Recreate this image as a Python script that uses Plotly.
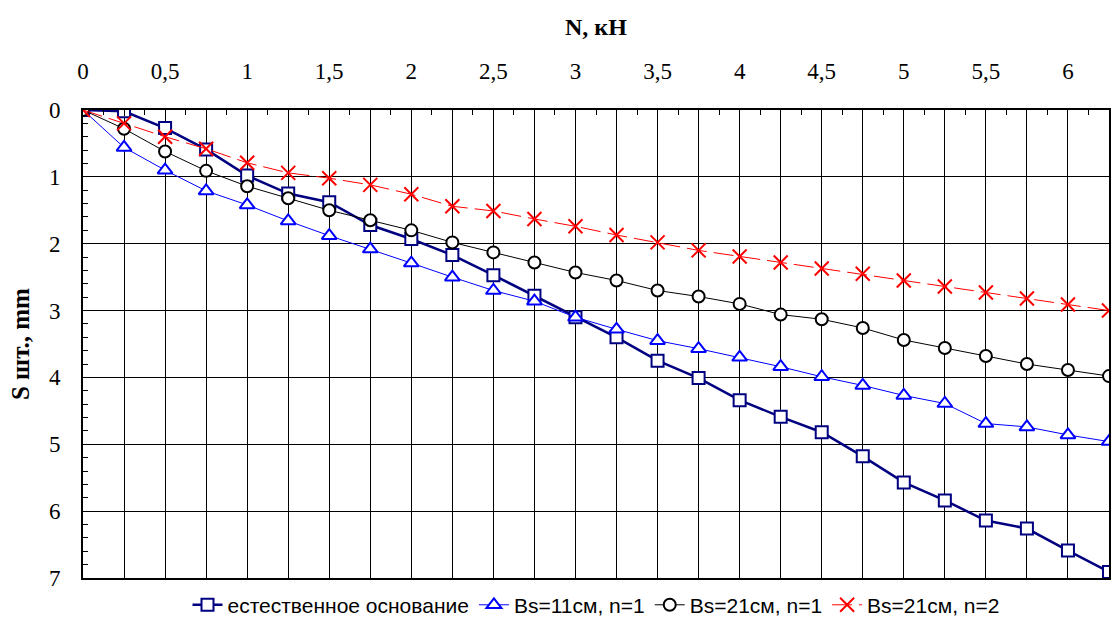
import plotly.graph_objects as go

# Load N, kN
N = [0, 0.25, 0.5, 0.75, 1, 1.25, 1.5, 1.75, 2, 2.25, 2.5, 2.75, 3, 3.25,
     3.5, 3.75, 4, 4.25, 4.5, 4.75, 5, 5.25, 5.5, 5.75, 6, 6.25]

# Settlement S, mm
s_natural = [0, 0.02, 0.27, 0.59, 0.98, 1.25, 1.38, 1.72, 1.93, 2.17, 2.47, 2.78, 3.10,
             3.40, 3.75, 4.01, 4.34, 4.59, 4.82, 5.18, 5.57, 5.84, 6.14, 6.26, 6.59, 6.91]
s_bs11_n1 = [0, 0.56, 0.90, 1.21, 1.42, 1.66, 1.88, 2.08, 2.29, 2.50, 2.70, 2.86, 3.10,
             3.28, 3.45, 3.57, 3.70, 3.84, 3.99, 4.12, 4.27, 4.39, 4.69, 4.74, 4.86, 4.96]
s_bs21_n1 = [0, 0.28, 0.62, 0.91, 1.14, 1.32, 1.50, 1.65, 1.80, 1.98, 2.13, 2.28, 2.43,
             2.55, 2.70, 2.79, 2.90, 3.06, 3.13, 3.26, 3.44, 3.56, 3.68, 3.80, 3.89, 3.98]
s_bs21_n2 = [0, 0.20, 0.40, 0.58, 0.79, 0.94, 1.02, 1.12, 1.26, 1.44, 1.51, 1.63, 1.74,
             1.87, 1.98, 2.10, 2.19, 2.28, 2.37, 2.45, 2.55, 2.64, 2.73, 2.82, 2.91, 3.00]

names = ["естественное основание", "Bs=11см, n=1", "Bs=21см, n=1", "Bs=21см, n=2"]

x_tickvals = [0, 0.25, 0.5, 0.75, 1, 1.25, 1.5, 1.75, 2, 2.25, 2.5, 2.75, 3, 3.25,
              3.5, 3.75, 4, 4.25, 4.5, 4.75, 5, 5.25, 5.5, 5.75, 6, 6.25]
x_ticktext = ["0", "", "0,5", "", "1", "", "1,5", "", "2", "", "2,5", "", "3", "",
              "3,5", "", "4", "", "4,5", "", "5", "", "5,5", "", "6", ""]
y_tickvals = [0, 1, 2, 3, 4, 5, 6, 7]
y_ticktext = ["0", "1", "2", "3", "4", "5", "6", "7"]

fig = go.Figure()
fig.add_trace(go.Scatter(
    x=N, y=s_natural, name=names[0], mode="lines+markers",
    line=dict(color="#000080", width=2.5),
    marker=dict(symbol="square", size=12, color="white",
                line=dict(color="#000080", width=2))))
fig.add_trace(go.Scatter(
    x=N, y=s_bs11_n1, name=names[1], mode="lines+markers",
    line=dict(color="#0000FF", width=1),
    marker=dict(symbol="triangle-up", size=13, color="white",
                line=dict(color="#0000FF", width=2))))
fig.add_trace(go.Scatter(
    x=N, y=s_bs21_n1, name=names[2], mode="lines+markers",
    line=dict(color="black", width=1),
    marker=dict(symbol="circle", size=12, color="white",
                line=dict(color="black", width=2))))
fig.add_trace(go.Scatter(
    x=N, y=s_bs21_n2, name=names[3], mode="lines+markers",
    line=dict(color="#FF0000", width=1, dash="20px,7px"),
    marker=dict(symbol="x-thin", size=14, color="#FF0000",
                line=dict(color="#FF0000", width=2))))

tick_font = dict(family="Liberation Serif", size=23, color="black")

pa_h = 637 - 110 - 59
pa_w = 1113 - 83 - 2

fig.update_layout(
    width=1113, height=637,
    margin=dict(l=83, r=2, t=110, b=59),
    paper_bgcolor="white", plot_bgcolor="white",
    showlegend=True,
    legend=dict(orientation="h", x=0.5, xanchor="center", y=-0.058, yanchor="middle",
                font=dict(family="Liberation Sans", size=21, color="black"),
                itemwidth=30, tracegroupgap=0, bgcolor="rgba(0,0,0,0)"),
    xaxis=dict(side="top", range=[0, 6.25], tickmode="array",
               tickvals=x_tickvals, ticktext=x_ticktext,
               ticks="inside", ticklen=6, tickcolor="black", tickwidth=1,
               showgrid=True, gridcolor="black", gridwidth=1,
               showline=True, linecolor="black", linewidth=2, mirror=True,
               zeroline=False, tickfont=tick_font, ticklabelstandoff=20,
               minor=dict(dtick=0.125, ticks="inside", ticklen=5,
                          tickcolor="black", showgrid=False)),
    yaxis=dict(range=[7, 0], tickmode="array",
               tickvals=y_tickvals, ticktext=y_ticktext,
               ticks="inside", ticklen=6, tickcolor="black", tickwidth=1,
               showgrid=True, gridcolor="black", gridwidth=1,
               showline=True, linecolor="black", linewidth=2, mirror=True,
               zeroline=False, tickfont=tick_font, ticklabelstandoff=16,
               minor=dict(dtick=0.2, ticks="inside", ticklen=5,
                          tickcolor="black", showgrid=False)),
    annotations=[
        dict(text="<b>N, кН</b>", x=0.5, xref="paper",
             y=1 + (110 - 27) / pa_h, yref="paper", yanchor="middle",
             showarrow=False, font=dict(family="Liberation Serif", size=24, color="black")),
        dict(text="<b>S шт., mm</b>", x=-(83 - 20) / pa_w, xref="paper", xanchor="center",
             y=0.5, yref="paper", yanchor="middle",
             showarrow=False, textangle=-90,
             font=dict(family="Liberation Serif", size=25, color="black")),
    ],
)

fig.write_html("out.html")
